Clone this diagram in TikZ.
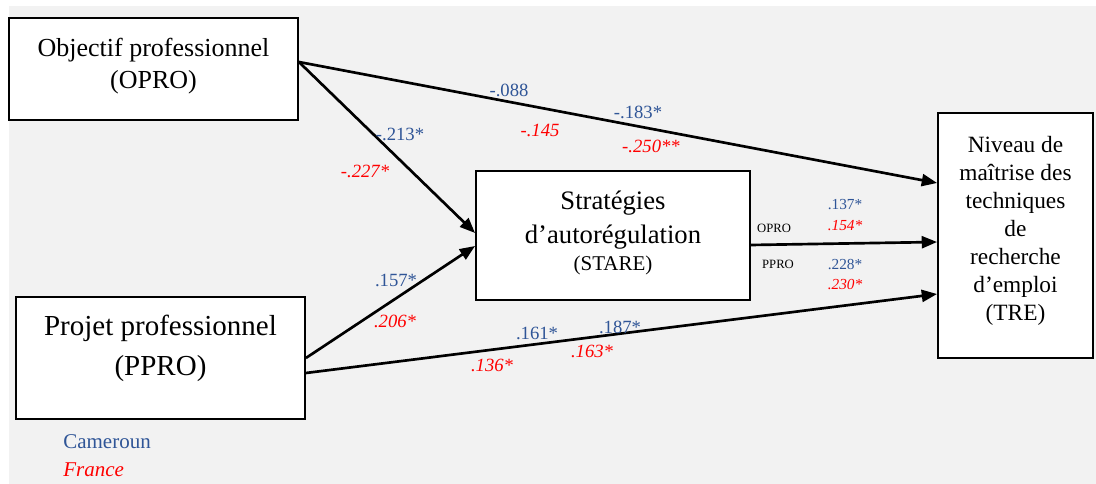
\documentclass[tikz,border=0pt]{standalone}
\usepackage{fontspec}
\setmainfont{Liberation Serif}
\usetikzlibrary{arrows.meta}
\definecolor{bgc}{HTML}{F2F2F2}
\definecolor{cblue}{HTML}{2F5597}
\definecolor{cred}{HTML}{FF0000}
\tikzset{
  boxst/.style={draw, line width=1.4pt, fill=white, inner sep=0pt},
  btxt/.style={align=center, inner sep=0pt},
  connst/.style={line width=2pt, -{Triangle[length=11.5pt,width=9pt]}},
  camlab/.style={text=cblue, inner sep=0pt, font=\fontsize{14}{16}\selectfont},
  fralab/.style={text=cred, inner sep=0pt, font=\fontsize{14}{16}\selectfont\itshape},
  camsmall/.style={text=cblue, inner sep=0pt, font=\fontsize{11.5}{13}\selectfont},
  frasmall/.style={text=cred, inner sep=0pt, font=\fontsize{11.5}{13}\selectfont\itshape},
  taglab/.style={text=black, inner sep=0pt, font=\fontsize{9.5}{11}\selectfont}
}
\begin{document}
\begin{tikzpicture}[x=0.75pt,y=-0.75pt]
\path[use as bounding box] (0,0) rectangle (1096,484);
\fill[bgc] (9,6) rectangle (1096,484);

% boxes
\node[boxst, minimum width=216.75pt, minimum height=76.5pt] (opro) at (153.5,69) {};
\node[boxst, minimum width=216.75pt, minimum height=91.5pt] (ppro) at (160.5,358) {};
\node[boxst, minimum width=205.5pt, minimum height=96.75pt] (stare) at (613,235.5) {};
\node[boxst, minimum width=116.25pt, minimum height=183.75pt] (tre) at (1015.5,235.5) {};

% box texts
\node[btxt, font=\fontsize{19.5}{24}\selectfont] (toprot) at (153.5,66) {Objectif professionnel\\(OPRO)};
\node[btxt, font=\fontsize{21.75}{30}\selectfont] (tpprot) at (160.5,348) {Projet professionnel\\(PPRO)};
\node[btxt, font=\fontsize{20}{26}\selectfont] (tstaret) at (613,220) {Stratégies\\d’autorégulation};
\node[btxt, font=\fontsize{15.75}{18}\selectfont] (tstare2) at (613,265) {(STARE)};
\node[btxt, font=\fontsize{17.5}{21}\selectfont] (ttret) at (1015.5,231) {Niveau de\\maîtrise des\\techniques\\de\\recherche\\d’emploi\\(TRE)};

% connectors
\draw[connst] ([yshift=5.25pt]opro.east) -- ([yshift=39.375pt]tre.west);
\draw[connst] ([yshift=5.25pt]opro.east) -- ([yshift=1.875pt]stare.west);
\draw[connst] (ppro.east) -- ([yshift=-7.875pt]stare.west);
\draw[connst] ([yshift=-11.25pt]ppro.east) -- ([yshift=-43.875pt]tre.west);
\draw[connst] ([yshift=-7.125pt]stare.east) -- ([yshift=-4.875pt]tre.west);

% coefficient labels
\node[camlab] (a1) at (509,90) {-.088};
\node[camlab] (a2) at (638,112) {-.183*};
\node[fralab] (a3) at (540,130) {-.145};
\node[fralab] (a4) at (651,146) {-.250**};
\node[camlab] (b1) at (400,134) {-.213*};
\node[fralab] (b2) at (365,171) {-.227*};
\node[camlab] (c1) at (396,280) {.157*};
\node[fralab] (c2) at (395,321) {.206*};
\node[camlab] (d1) at (537,333) {.161*};
\node[camlab] (d2) at (620,327) {.187*};
\node[fralab] (d3) at (592,351) {.163*};
\node[fralab] (d4) at (492,365) {.136*};
\node[taglab] (e0) at (774,228) {OPRO};
\node[camsmall] (e1) at (845,205) {.137*};
\node[frasmall] (e2) at (845,226) {.154*};
\node[taglab] (f0) at (778,264) {PPRO};
\node[camsmall] (f1) at (845,265) {.228*};
\node[frasmall] (f2) at (845,285) {.230*};

% legend
\node[text=cblue, inner sep=0pt, anchor=west, font=\fontsize{15.75}{18}\selectfont] (lg1) at (63,442) {Cameroun};
\node[text=cred, inner sep=0pt, anchor=west, font=\fontsize{15.75}{18}\selectfont\itshape] (lg2) at (63,470) {France};
\end{tikzpicture}
\end{document}
